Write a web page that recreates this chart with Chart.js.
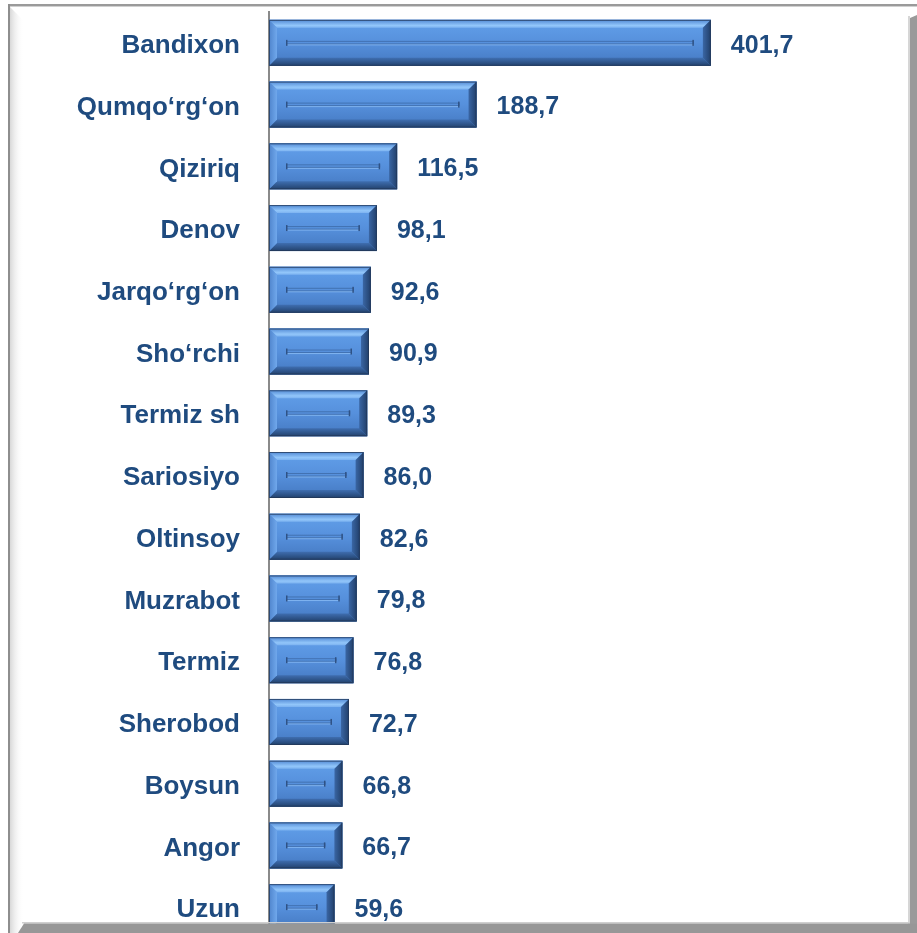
<!DOCTYPE html>
<html><head><meta charset="utf-8">
<script src="https://cdn.jsdelivr.net/npm/chart.js@4"></script>
<style>
html,body{margin:0;padding:0;overflow:hidden;background:#fff}
#wrap{position:relative;width:917px;height:933px;overflow:hidden}
canvas{display:block}
</style></head>
<body><div id="wrap"><canvas id="c" width="917" height="950"></canvas></div>
<script>
const categories = ['Bandixon','Qumqo‘rg‘on','Qiziriq','Denov','Jarqo‘rg‘on','Sho‘rchi','Termiz sh','Sariosiyo','Oltinsoy','Muzrabot','Termiz','Sherobod','Boysun','Angor','Uzun'];
const values = [401.7,188.7,116.5,98.1,92.6,90.9,89.3,86.0,82.6,79.8,76.8,72.7,66.8,66.7,59.6];
const xMin = 0, xMax = 550;

const TEXT = '#1F4B7F';
const FONT = '"Liberation Sans", Arial, sans-serif';

function fmt(v){ return v.toFixed(1).replace('.', ','); }

const bevelPlugin = {
  id:'bevel',
  afterDatasetDraw(chart, args){
    const ctx = chart.ctx;
    const meta = args.meta;
    meta.data.forEach((el, i)=>{
      const p = el.getProps(['x','y','base','height'], true);
      const x0 = Math.min(p.base,p.x), x1 = Math.max(p.base,p.x);
      const y0 = p.y - p.height/2, y1 = p.y + p.height/2;
      const b = Math.min(8, (x1-x0)/3);
      ctx.save();
      // face
      let g = ctx.createLinearGradient(0,y0,0,y1);
      g.addColorStop(0,'#62A0EA'); g.addColorStop(0.5,'#5690DC'); g.addColorStop(1,'#4478C0');
      ctx.fillStyle = g; ctx.fillRect(x0,y0,x1-x0,y1-y0);
      // top bevel
      g = ctx.createLinearGradient(0,y0,0,y0+b);
      g.addColorStop(0,'#5189D4'); g.addColorStop(0.7,'#92C6FA'); g.addColorStop(1,'#7CB2F0');
      ctx.fillStyle = g;
      ctx.beginPath(); ctx.moveTo(x0,y0); ctx.lineTo(x1,y0); ctx.lineTo(x1-b,y0+b); ctx.lineTo(x0+b,y0+b); ctx.closePath(); ctx.fill();
      // bottom bevel
      g = ctx.createLinearGradient(0,y1-b,0,y1);
      g.addColorStop(0,'#3F6EB0'); g.addColorStop(1,'#22416C');
      ctx.fillStyle = g;
      ctx.beginPath(); ctx.moveTo(x0,y1); ctx.lineTo(x1,y1); ctx.lineTo(x1-b,y1-b); ctx.lineTo(x0+b,y1-b); ctx.closePath(); ctx.fill();
      // left bevel
      g = ctx.createLinearGradient(x0,0,x0+b,0);
      g.addColorStop(0,'#4F84CC'); g.addColorStop(1,'#70A8EC');
      ctx.fillStyle = g;
      ctx.beginPath(); ctx.moveTo(x0,y0); ctx.lineTo(x0+b,y0+b); ctx.lineTo(x0+b,y1-b); ctx.lineTo(x0,y1); ctx.closePath(); ctx.fill();
      // right bevel
      g = ctx.createLinearGradient(x1-b,0,x1,0);
      g.addColorStop(0,'#3A66A4'); g.addColorStop(1,'#213F6A');
      ctx.fillStyle = g;
      ctx.beginPath(); ctx.moveTo(x1,y0); ctx.lineTo(x1-b,y0+b); ctx.lineTo(x1-b,y1-b); ctx.lineTo(x1,y1); ctx.closePath(); ctx.fill();
      // center groove
      const cy = (y0+y1)/2;
      const gx0 = x0+b+9, gx1 = x1-b-9;
      if (gx1 > gx0){
        ctx.fillStyle = '#80B4F0';
        ctx.fillRect(gx0, cy+1, gx1-gx0, 1.5);
        ctx.strokeStyle = '#4272B2'; ctx.lineWidth = 1;
        ctx.strokeRect(gx0+0.5, cy-1.5, gx1-gx0-1, 2.5);
        ctx.fillStyle = '#2F5285';
        ctx.fillRect(gx0, cy-3, 1.5, 6);
        ctx.fillRect(gx1-1.5, cy-3, 1.5, 6);
      }
      // outline
      ctx.strokeStyle = 'rgba(35,55,85,0.75)'; ctx.lineWidth = 1;
      ctx.strokeRect(x0+0.5,y0+0.5,x1-x0-1,y1-y0-1);
      // value label
      ctx.fillStyle = TEXT;
      ctx.font = 'bold 25px ' + FONT;
      ctx.textAlign = 'left'; ctx.textBaseline = 'middle';
      ctx.fillText(fmt(values[i]), x1+20, p.y+3);
      ctx.restore();
    });
  }
};

const framePlugin = {
  id:'frame',
  beforeDraw(chart){
    const ctx = chart.ctx;
    ctx.save(); ctx.fillStyle='#fff'; ctx.fillRect(0,0,chart.width,chart.height); ctx.restore();
  },
  afterDraw(chart){
    const ctx = chart.ctx;
    ctx.save();
    // left inner shading
    let g = ctx.createLinearGradient(10,0,24,0);
    g.addColorStop(0,'#d8d8d8'); g.addColorStop(1,'rgba(255,255,255,0)');
    ctx.fillStyle = g;
    ctx.beginPath(); ctx.moveTo(10,7); ctx.lineTo(24,21); ctx.lineTo(24,940); ctx.lineTo(10,940); ctx.closePath(); ctx.fill();
    // top line
    ctx.fillStyle = '#9a9a9a'; ctx.fillRect(8,4,917-8,2);
    ctx.fillStyle = '#d0d0d0'; ctx.fillRect(8,6,917-8,1);
    // left line
    ctx.fillStyle = '#8e8e8e'; ctx.fillRect(8,4,2,940);
    // right shadow
    ctx.fillStyle = '#d6d6d6'; ctx.fillRect(908,16,2,920);
    ctx.fillStyle = '#9a9a9a';
    ctx.beginPath(); ctx.moveTo(910,18); ctx.lineTo(917,15); ctx.lineTo(917,940); ctx.lineTo(910,940); ctx.closePath(); ctx.fill();
    // bottom shadow
    ctx.fillStyle = '#cfcfcf'; ctx.fillRect(22,922,888,1.5);
    ctx.fillStyle = '#979797';
    ctx.beginPath(); ctx.moveTo(18,933); ctx.lineTo(24,923.5); ctx.lineTo(917,923.5); ctx.lineTo(917,940); ctx.lineTo(18,940); ctx.closePath(); ctx.fill();
    ctx.restore();
  }
};

new Chart(document.getElementById('c'), {
  type:'bar',
  data:{ labels:categories, datasets:[{ data:values, backgroundColor:'#5189D2', borderWidth:0, barPercentage:0.745, categoryPercentage:1 }] },
  options:{
    indexAxis:'y', responsive:false, animation:false,
    layout:{ padding:{ left:0, right:43, top:12, bottom:12 } },
    plugins:{ legend:{display:false}, tooltip:{enabled:false} },
    scales:{
      x:{ type:'linear', min:xMin, max:xMax, display:false },
      y:{
        z:1,
        grid:{ display:false },
        border:{ display:true, color:'#8a8a8a', width:2 },
        ticks:{ color:TEXT, padding:21, labelOffset:3, font:{ family:FONT, size:26, weight:'bold' } },
        afterFit(s){ s.width = 269; s.paddingTop = 0; s.paddingBottom = 0; }
      }
    }
  },
  plugins:[framePlugin, bevelPlugin]
});
</script></body></html>
